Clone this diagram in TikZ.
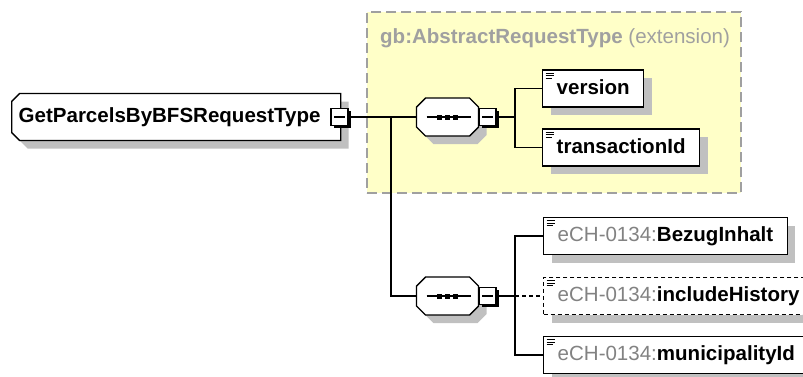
\documentclass[tikz,border=0pt]{standalone}
\usepackage{fontspec}
\setmainfont{Liberation Sans}
\usetikzlibrary{shapes.misc,shadows}

\definecolor{extyellow}{RGB}{255,255,200}
\definecolor{extborder}{RGB}{160,160,160}
\definecolor{titlegrey}{RGB}{160,160,160}
\definecolor{nsgrey}{RGB}{130,130,130}
\definecolor{shadowgrey}{RGB}{192,192,192}

\tikzset{
  greyshadow/.style={drop shadow={shadow xshift=8bp,shadow yshift=-8bp,fill=shadowgrey,opacity=1}},
  rootbox/.style={chamfered rectangle,chamfered rectangle corners={north west,south west},
    chamfered rectangle xsep=4bp,chamfered rectangle ysep=4bp,draw,line width=1.4bp,fill=white,
    anchor=west,text width=315bp,align=left,inner xsep=3bp,inner ysep=10bp,
    text height=15bp,text depth=4bp,greyshadow},
  elem/.style={draw,line width=1.4bp,fill=white,anchor=west,minimum height=37bp,
    inner xsep=14bp,inner ysep=0pt,text height=15bp,text depth=4bp,greyshadow,
    path picture={\draw[solid,line width=0.8bp]
      ([xshift=3bp,yshift=-3bp]path picture bounding box.north west) -- ++(8bp,0)
      ([xshift=3bp,yshift=-5.5bp]path picture bounding box.north west) -- ++(8bp,0)
      ([xshift=3bp,yshift=-8bp]path picture bounding box.north west) -- ++(6bp,0);}},
  optelem/.style={elem,dash pattern=on 4bp off 3bp},
  compositor/.style={chamfered rectangle,chamfered rectangle xsep=4.5bp,chamfered rectangle ysep=4.5bp,
    draw,line width=1.4bp,fill=white,inner xsep=26.5bp,inner ysep=14.5bp,greyshadow},
  minusbox/.style={draw,line width=1.2bp,fill=white,minimum width=17bp,minimum height=17bp,
    inner sep=0pt,drop shadow={shadow xshift=2.5bp,shadow yshift=-2.5bp,fill=black,opacity=1},
    path picture={\draw[line width=1.2bp] ([xshift=3bp]path picture bounding box.west)
      -- ([xshift=-3bp]path picture bounding box.east);}},
  link/.style={line width=1.4bp},
}

\begin{document}
\begin{tikzpicture}[x=1bp,y=-1bp,font=\bfseries\fontsize{20.6}{24}\selectfont]
\useasboundingbox (0,0) rectangle (803,376);

% extension group
\node (extbox) [draw=extborder,fill=extyellow,line width=1.5bp,dash pattern=on 10bp off 5bp,
  minimum width=374bp,minimum height=181bp] at (554,102.5) {};
\node (exttitle) [anchor=base west,inner sep=0pt,text=titlegrey] at (380,43)
  {gb:AbstractRequestType \mdseries(extension)};

% root type
\node (root) [rootbox] at (11,117) {GetParcelsByBFSRequestType};
\node (rootminus) [minusbox] at (339.5,117) {};

% sequences
\node (seq1) [compositor] at (447.5,117) {};
\node (seq1minus) [minusbox] at (487.5,117) {};
\draw[link] ([xshift=-21bp]seq1.center) -- ([xshift=23bp]seq1.center);
\fill ([xshift=-10.5bp,yshift=-2.5bp]seq1.center) rectangle +(5bp,5bp);
\fill ([xshift=-2.5bp,yshift=-2.5bp]seq1.center) rectangle +(5bp,5bp);
\fill ([xshift=5.5bp,yshift=-2.5bp]seq1.center) rectangle +(5bp,5bp);

\node (seq2) [compositor] at (447.5,296) {};
\node (seq2minus) [minusbox] at (487.5,296) {};
\draw[link] ([xshift=-21bp]seq2.center) -- ([xshift=23bp]seq2.center);
\fill ([xshift=-10.5bp,yshift=-2.5bp]seq2.center) rectangle +(5bp,5bp);
\fill ([xshift=-2.5bp,yshift=-2.5bp]seq2.center) rectangle +(5bp,5bp);
\fill ([xshift=5.5bp,yshift=-2.5bp]seq2.center) rectangle +(5bp,5bp);

% elements
\node (version) [elem] at (542,88.5) {version};
\node (transactionId) [elem] at (542,147.5) {transactionId};
\node (bezugInhalt) [elem] at (543,236) {\textcolor{nsgrey}{\mdseries eCH-0134:}BezugInhalt};
\node (includeHistory) [optelem] at (543,296) {\textcolor{nsgrey}{\mdseries eCH-0134:}includeHistory};
\node (municipalityId) [elem] at (543,355) {\textcolor{nsgrey}{\mdseries eCH-0134:}municipalityId};

% connectors
\coordinate (rootfork) at (391,117);
\coordinate (fork1) at (515,117);
\coordinate (fork2) at (515,296);
\draw[link] (rootminus.east) -- (seq1.west);
\draw[link] (rootfork) |- (seq2.west);
\draw[link] (seq1minus.east) -- (fork1);
\draw[link] (version.west) -| (fork1) |- (transactionId.west);
\draw[link] (seq2minus.east) -- (fork2);
\draw[link] (bezugInhalt.west) -| (fork2) |- (municipalityId.west);
\draw[link,dash pattern=on 4bp off 3bp] (fork2) -- (includeHistory.west);

\end{tikzpicture}
\end{document}
